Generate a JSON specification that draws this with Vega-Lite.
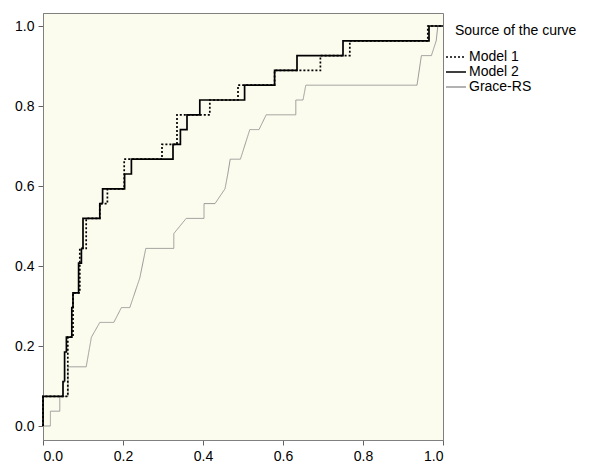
{
  "$schema": "https://vega.github.io/schema/vega-lite/v6.json",
  "width": 400,
  "height": 427,
  "autosize": {"type": "none"},
  "padding": {"left": 43, "top": 13, "right": 152, "bottom": 24},
  "background": "white",
  "config": {
    "font": "Liberation Sans",
    "view": {"fill": "#fcfcee", "stroke": "#808080", "strokeWidth": 1},
    "axis": {
      "grid": false,
      "domainColor": "#808080",
      "tickColor": "#606060",
      "tickSize": 5,
      "labelFontSize": 14,
      "labelColor": "#000000",
      "labelFont": "Liberation Sans",
      "title": null
    }
  },
  "data": {
    "values": [
      {"s": "Model 1", "i": 0, "fpr": 0, "tpr": 0},
      {"s": "Model 1", "i": 1, "fpr": 0, "tpr": 0.074},
      {"s": "Model 1", "i": 2, "fpr": 0.062, "tpr": 0.222},
      {"s": "Model 1", "i": 3, "fpr": 0.075, "tpr": 0.333},
      {"s": "Model 1", "i": 4, "fpr": 0.092, "tpr": 0.444},
      {"s": "Model 1", "i": 5, "fpr": 0.108, "tpr": 0.519},
      {"s": "Model 1", "i": 6, "fpr": 0.142, "tpr": 0.556},
      {"s": "Model 1", "i": 7, "fpr": 0.161, "tpr": 0.593},
      {"s": "Model 1", "i": 8, "fpr": 0.203, "tpr": 0.667},
      {"s": "Model 1", "i": 9, "fpr": 0.2975, "tpr": 0.704},
      {"s": "Model 1", "i": 10, "fpr": 0.335, "tpr": 0.778},
      {"s": "Model 1", "i": 11, "fpr": 0.417, "tpr": 0.815},
      {"s": "Model 1", "i": 12, "fpr": 0.4875, "tpr": 0.852},
      {"s": "Model 1", "i": 13, "fpr": 0.579, "tpr": 0.889},
      {"s": "Model 1", "i": 14, "fpr": 0.6935, "tpr": 0.926},
      {"s": "Model 1", "i": 15, "fpr": 0.767, "tpr": 0.963},
      {"s": "Model 1", "i": 16, "fpr": 0.962, "tpr": 1.0},
      {"s": "Model 1", "i": 17, "fpr": 1.0, "tpr": 1.0},
      {"s": "Model 2", "i": 0, "fpr": 0, "tpr": 0},
      {"s": "Model 2", "i": 1, "fpr": 0, "tpr": 0.074},
      {"s": "Model 2", "i": 2, "fpr": 0.05, "tpr": 0.111},
      {"s": "Model 2", "i": 3, "fpr": 0.054, "tpr": 0.185},
      {"s": "Model 2", "i": 4, "fpr": 0.0585, "tpr": 0.222},
      {"s": "Model 2", "i": 5, "fpr": 0.072, "tpr": 0.296},
      {"s": "Model 2", "i": 6, "fpr": 0.075, "tpr": 0.333},
      {"s": "Model 2", "i": 7, "fpr": 0.089, "tpr": 0.407},
      {"s": "Model 2", "i": 8, "fpr": 0.096, "tpr": 0.444},
      {"s": "Model 2", "i": 9, "fpr": 0.1, "tpr": 0.519},
      {"s": "Model 2", "i": 10, "fpr": 0.142, "tpr": 0.556},
      {"s": "Model 2", "i": 11, "fpr": 0.149, "tpr": 0.593},
      {"s": "Model 2", "i": 12, "fpr": 0.204, "tpr": 0.63},
      {"s": "Model 2", "i": 13, "fpr": 0.221, "tpr": 0.667},
      {"s": "Model 2", "i": 14, "fpr": 0.325, "tpr": 0.704},
      {"s": "Model 2", "i": 15, "fpr": 0.3435, "tpr": 0.741},
      {"s": "Model 2", "i": 16, "fpr": 0.36, "tpr": 0.778},
      {"s": "Model 2", "i": 17, "fpr": 0.392, "tpr": 0.815},
      {"s": "Model 2", "i": 18, "fpr": 0.504, "tpr": 0.852},
      {"s": "Model 2", "i": 19, "fpr": 0.579, "tpr": 0.889},
      {"s": "Model 2", "i": 20, "fpr": 0.635, "tpr": 0.926},
      {"s": "Model 2", "i": 21, "fpr": 0.75, "tpr": 0.963},
      {"s": "Model 2", "i": 22, "fpr": 0.965, "tpr": 1.0},
      {"s": "Model 2", "i": 23, "fpr": 1.0, "tpr": 1.0},
      {"s": "Grace-RS", "i": 0, "fpr": 0, "tpr": 0},
      {"s": "Grace-RS", "i": 1, "fpr": 0.0185, "tpr": 0},
      {"s": "Grace-RS", "i": 2, "fpr": 0.0185, "tpr": 0.037},
      {"s": "Grace-RS", "i": 3, "fpr": 0.042, "tpr": 0.037},
      {"s": "Grace-RS", "i": 4, "fpr": 0.042, "tpr": 0.074},
      {"s": "Grace-RS", "i": 5, "fpr": 0.0625, "tpr": 0.074},
      {"s": "Grace-RS", "i": 6, "fpr": 0.0625, "tpr": 0.148},
      {"s": "Grace-RS", "i": 7, "fpr": 0.108, "tpr": 0.148},
      {"s": "Grace-RS", "i": 8, "fpr": 0.121, "tpr": 0.222},
      {"s": "Grace-RS", "i": 9, "fpr": 0.142, "tpr": 0.259},
      {"s": "Grace-RS", "i": 10, "fpr": 0.177, "tpr": 0.259},
      {"s": "Grace-RS", "i": 11, "fpr": 0.196, "tpr": 0.296},
      {"s": "Grace-RS", "i": 12, "fpr": 0.217, "tpr": 0.296},
      {"s": "Grace-RS", "i": 13, "fpr": 0.242, "tpr": 0.37},
      {"s": "Grace-RS", "i": 14, "fpr": 0.257, "tpr": 0.444},
      {"s": "Grace-RS", "i": 15, "fpr": 0.327, "tpr": 0.444},
      {"s": "Grace-RS", "i": 16, "fpr": 0.327, "tpr": 0.481},
      {"s": "Grace-RS", "i": 17, "fpr": 0.358, "tpr": 0.519},
      {"s": "Grace-RS", "i": 18, "fpr": 0.4025, "tpr": 0.519},
      {"s": "Grace-RS", "i": 19, "fpr": 0.4025, "tpr": 0.556},
      {"s": "Grace-RS", "i": 20, "fpr": 0.43, "tpr": 0.556},
      {"s": "Grace-RS", "i": 21, "fpr": 0.455, "tpr": 0.593},
      {"s": "Grace-RS", "i": 22, "fpr": 0.462, "tpr": 0.63},
      {"s": "Grace-RS", "i": 23, "fpr": 0.468, "tpr": 0.667},
      {"s": "Grace-RS", "i": 24, "fpr": 0.4935, "tpr": 0.667},
      {"s": "Grace-RS", "i": 25, "fpr": 0.517, "tpr": 0.741},
      {"s": "Grace-RS", "i": 26, "fpr": 0.54, "tpr": 0.741},
      {"s": "Grace-RS", "i": 27, "fpr": 0.558, "tpr": 0.778},
      {"s": "Grace-RS", "i": 28, "fpr": 0.632, "tpr": 0.778},
      {"s": "Grace-RS", "i": 29, "fpr": 0.632, "tpr": 0.815},
      {"s": "Grace-RS", "i": 30, "fpr": 0.65, "tpr": 0.815},
      {"s": "Grace-RS", "i": 31, "fpr": 0.657, "tpr": 0.852},
      {"s": "Grace-RS", "i": 32, "fpr": 0.935, "tpr": 0.852},
      {"s": "Grace-RS", "i": 33, "fpr": 0.946, "tpr": 0.926},
      {"s": "Grace-RS", "i": 34, "fpr": 0.971, "tpr": 0.926},
      {"s": "Grace-RS", "i": 35, "fpr": 0.983, "tpr": 0.963},
      {"s": "Grace-RS", "i": 36, "fpr": 0.987, "tpr": 1.0},
      {"s": "Grace-RS", "i": 37, "fpr": 1.0, "tpr": 1.0}
    ]
  },
  "encoding": {
    "x": {
      "field": "fpr",
      "type": "quantitative",
      "scale": {"domain": [0, 1], "nice": false, "zero": false},
      "axis": {"values": [0, 0.2, 0.4, 0.6, 0.8, 1.0], "format": ".1f", "labelPadding": 4}
    },
    "y": {
      "field": "tpr",
      "type": "quantitative",
      "scale": {"domain": [-0.035, 1.0325], "nice": false, "zero": false},
      "axis": {"values": [0, 0.2, 0.4, 0.6, 0.8, 1.0], "format": ".1f", "labelPadding": 4}
    },
    "order": {"field": "i", "type": "quantitative"},
    "color": {
      "field": "s",
      "type": "nominal",
      "title": "Source of the curve",
      "scale": {"domain": ["Model 1", "Model 2", "Grace-RS"], "range": ["#000000", "#000000", "#999999"]},
      "legend": {
        "orient": "none",
        "legendX": 412,
        "legendY": 11,
        "padding": 0,
        "titleFontSize": 14,
        "titleFontWeight": "normal",
        "titleColor": "#000000",
        "titleFont": "Liberation Sans",
        "titlePadding": 12,
        "labelFontSize": 14,
        "labelColor": "#000000",
        "labelFont": "Liberation Sans",
        "symbolType": "M-2,0L2,0",
        "symbolSize": 100,
        "symbolStrokeWidth": 1.5,
        "symbolFillColor": "transparent",
        "symbolOffset": -6,
        "labelOffset": 6,
        "rowPadding": 1
      }
    },
    "strokeDash": {
      "field": "s",
      "type": "nominal",
      "title": "Source of the curve",
      "scale": {"domain": ["Model 1", "Model 2", "Grace-RS"], "range": [[2, 2], [1, 0], [1, 0]]}
    }
  },
  "layer": [
    {
      "transform": [{"filter": "datum.s === 'Grace-RS'"}],
      "mark": {"type": "line", "strokeWidth": 1, "interpolate": "linear"}
    },
    {
      "transform": [{"filter": "datum.s !== 'Grace-RS'"}],
      "mark": {"type": "line", "strokeWidth": 1.7, "interpolate": "step-after"}
    }
  ]
}
